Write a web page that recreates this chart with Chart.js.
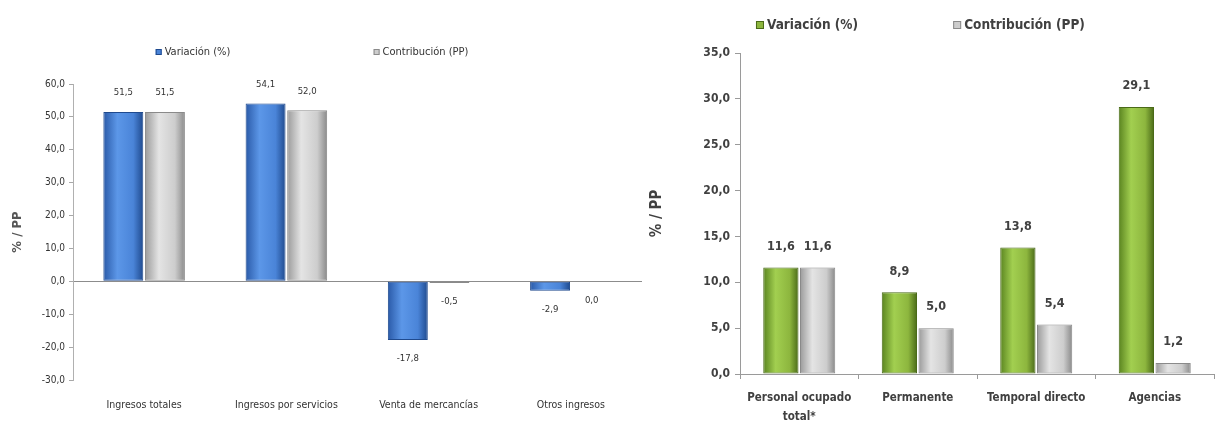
<!DOCTYPE html>
<html lang="es">
<head>
<meta charset="UTF-8">
<title>Variación y contribución</title>
<style>
  body { margin: 0; background: #fff; }
  .box { position: absolute; top: 0; height: 433px; }
  #left { left: 0; width: 642px; }
  #right { left: 640px; width: 575px; }
</style>
</head>
<body>
<div class="box" id="left"><canvas id="chartA"></canvas></div>
<div class="box" id="right"><canvas id="chartB"></canvas></div>

<script src="https://cdn.jsdelivr.net/npm/chart.js@4.4.1/dist/chart.umd.min.js"></script>
<script>
// data
const ingresosCats = ['Ingresos totales', 'Ingresos por servicios', 'Venta de mercancías', 'Otros ingresos'];
const ingresosVariacion = [51.5, 54.1, -17.8, -2.9];
const ingresosContribucion = [51.5, 52.0, -0.5, 0.0];

const personalCats = [['Personal ocupado', 'total*'], 'Permanente', 'Temporal directo', 'Agencias'];
const personalVariacion = [11.6, 8.9, 13.8, 29.1];
const personalContribucion = [11.6, 5.0, 5.4, 1.2];

const seriesNames = ['Variación (%)', 'Contribución (PP)'];

// edge / light / mid / edge for the cylinder look
const blueShades = ['#2a5aa8', '#5c97e8', '#4a84d8', '#1f4a8e'];
const greenShades = ['#5a8420', '#a2cf50', '#8db63e', '#4a6a18'];
const greyShades = ['#9a9a9a', '#e4e4e4', '#cdcdcd', '#8a8a8a'];

const fmt = v => v.toFixed(1).replace('.', ',');
const narrow = "'Liberation Sans Narrow', 'DejaVu Sans Condensed', 'Liberation Sans', sans-serif";
Chart.defaults.font.family = narrow;
Chart.defaults.color = '#404040';

const shade = {
  id: 'shade',
  beforeDatasetsDraw(chart) {
    const ctx = chart.ctx;
    chart.data.datasets.forEach((ds, i) => {
      const s = ds.shades;
      chart.getDatasetMeta(i).data.forEach(bar => {
        const x0 = bar.x - bar.width / 2;
        const g = ctx.createLinearGradient(x0, 0, x0 + bar.width, 0);
        g.addColorStop(0, s[0]);
        g.addColorStop(0.35, s[1]);
        g.addColorStop(0.75, s[2]);
        g.addColorStop(1, s[3]);
        bar.options.backgroundColor = g;
      });
    });
  }
};

const valueLabels = {
  id: 'valueLabels',
  afterDatasetsDraw(chart, args, opts) {
    const ctx = chart.ctx;
    ctx.save();
    ctx.font = opts.font;
    ctx.fillStyle = opts.color;
    ctx.textAlign = 'center';
    ctx.textBaseline = 'middle';
    chart.data.datasets.forEach((ds, i) => {
      chart.getDatasetMeta(i).data.forEach((bar, j) => {
        const v = ds.data[j];
        const y = v > 0 ? bar.y - opts.offset : bar.y + opts.offset;
        ctx.fillText(fmt(v), bar.x, y);
      });
    });
    ctx.restore();
  }
};

const legendRow = {
  id: 'legendRow',
  afterDraw(chart, args, opts) {
    const ctx = chart.ctx;
    ctx.save();
    ctx.font = opts.font;
    ctx.textBaseline = 'middle';
    ctx.textAlign = 'left';
    chart.data.datasets.forEach((ds, i) => {
      const tw = ctx.measureText(ds.label).width;
      const x = opts.centers[i] - (opts.box + opts.gap + tw) / 2;
      ctx.fillStyle = ds.shades[2];
      ctx.fillRect(x, opts.y - opts.box / 2, opts.box, opts.box);
      ctx.strokeStyle = ds.shades[3];
      ctx.lineWidth = 1;
      ctx.strokeRect(x + 0.5, opts.y - opts.box / 2 + 0.5, opts.box - 1, opts.box - 1);
      ctx.fillStyle = opts.color;
      ctx.fillText(ds.label, x + opts.box + opts.gap, opts.y);
    });
    ctx.restore();
  }
};

function makeSet(label, data, shades, catPct) {
  return {
    label: label,
    data: data,
    shades: shades,
    backgroundColor: () => shades[2],
    borderColor: shades[3],
    borderWidth: 1,
    borderSkipped: false,
    barPercentage: 0.96,
    categoryPercentage: catPct
  };
}

// left chart: ingresos
new Chart(document.getElementById('chartA'), {
  type: 'bar',
  data: {
    labels: ingresosCats,
    datasets: [
      makeSet(seriesNames[0], ingresosVariacion, blueShades, 0.585),
      makeSet(seriesNames[1], ingresosContribucion, greyShades, 0.585)
    ]
  },
  plugins: [shade, valueLabels, legendRow],
  options: {
    responsive: true,
    maintainAspectRatio: false,
    animation: false,
    layout: { padding: { top: 84, right: 0, bottom: 0, left: 0 } },
    plugins: {
      legend: { display: false },
      tooltip: { enabled: false },
      valueLabels: { font: "9.5px " + narrow, color: '#333', offset: 19 },
      legendRow: { font: "11px " + narrow, color: '#333', centers: [193, 421], y: 52, box: 6, gap: 3 }
    },
    scales: {
      x: {
        grid: { display: false },
        border: { display: false },
        ticks: { padding: 11, font: { size: 10.5 }, color: '#333', maxRotation: 0 },
        afterFit(s) { s.height = 53; }
      },
      y: {
        min: -30,
        max: 60,
        ticks: { stepSize: 10, callback: v => fmt(v), font: { size: 10 }, color: '#333', padding: 4 },
        grid: {
          color: c => c.tick && c.tick.value === 0 ? '#8c8c8c' : 'rgba(0,0,0,0)',
          tickColor: '#a8a8a8',
          tickLength: 4
        },
        border: { color: '#b0b0b0' },
        title: { display: true, text: '% / PP', font: { size: 13, weight: 'bold' }, color: '#555', padding: { top: 10, bottom: 0 } },
        afterFit(s) { s.width = 73; }
      }
    }
  }
});

// right chart: personal ocupado
new Chart(document.getElementById('chartB'), {
  type: 'bar',
  data: {
    labels: personalCats,
    datasets: [
      makeSet(seriesNames[0], personalVariacion, greenShades, 0.62),
      makeSet(seriesNames[1], personalContribucion, greyShades, 0.62)
    ]
  },
  plugins: [shade, valueLabels, legendRow],
  options: {
    responsive: true,
    maintainAspectRatio: false,
    animation: false,
    layout: { padding: { top: 53, right: 1, bottom: 0, left: 0 } },
    plugins: {
      legend: { display: false },
      tooltip: { enabled: false },
      valueLabels: { font: "bold 12.5px " + narrow, color: '#404040', offset: 21 },
      legendRow: { font: "bold 13.5px " + narrow, color: '#404040', centers: [167, 379], y: 25, box: 8, gap: 3 }
    },
    scales: {
      x: {
        grid: { display: true, drawOnChartArea: false, drawTicks: true, tickLength: 5, color: '#9a9a9a', offset: true },
        border: { color: '#9a9a9a' },
        ticks: { padding: 9, font: { size: 11.5, weight: 'bold', lineHeight: 1.7 }, color: '#404040', maxRotation: 0 },
        afterFit(s) { s.height = 59; }
      },
      y: {
        min: 0,
        max: 35,
        ticks: { stepSize: 5, callback: v => fmt(v), font: { size: 12, weight: 'bold' }, color: '#404040', padding: 5 },
        grid: { drawOnChartArea: false, tickColor: '#9a9a9a', tickLength: 5 },
        border: { color: '#9a9a9a' },
        title: { display: true, text: '% / PP', font: { size: 15, weight: 'bold' }, color: '#404040', padding: { top: 8, bottom: 0 } },
        afterFit(s) { s.width = 100; }
      }
    }
  }
});
</script>
</body>
</html>
